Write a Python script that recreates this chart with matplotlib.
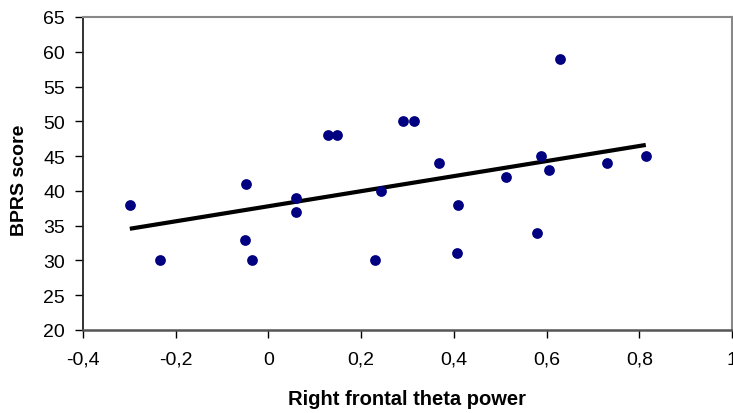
import numpy as np
import matplotlib
matplotlib.use("Agg")
import matplotlib.pyplot as plt
from matplotlib.ticker import FuncFormatter

# data
theta_power = [-0.299, -0.234, -0.048, -0.051, -0.035, 0.059, 0.059, 0.128, 0.147,
               0.230, 0.243, 0.290, 0.315, 0.369, 0.408, 0.406, 0.512, 0.580,
               0.587, 0.605, 0.629, 0.731, 0.814]
bprs_score = [38, 30, 41, 33, 30, 39, 37, 48, 48, 30, 40, 50, 50, 44, 38, 31,
              42, 34, 45, 43, 59, 44, 45]
x_ticks = [-0.4, -0.2, 0, 0.2, 0.4, 0.6, 0.8, 1.0]
y_ticks = [20, 25, 30, 35, 40, 45, 50, 55, 60, 65]

plt.rcParams['font.family'] = ['Liberation Sans', 'DejaVu Sans']

W, H = 733, 414
fig = plt.figure(figsize=(W / 100, H / 100), dpi=100)
ax = fig.add_axes([83 / W, 1 - 331 / H, (732 - 83) / W, (331 - 18) / H])

x = np.array(theta_power)
y = np.array(bprs_score)
ax.scatter(x, y, s=60, color='#000080', zorder=3, linewidths=0)

# linear trend line
slope, icpt = np.polyfit(x, y, 1)
xl = np.array([x.min(), x.max()])
ax.plot(xl, slope * xl + icpt, color='black', lw=3, solid_capstyle='butt', zorder=2)

ax.set_xlim(-0.4, 1.0)
ax.set_ylim(20, 65)
ax.set_xticks(x_ticks)
ax.set_yticks(y_ticks)
ax.xaxis.set_major_formatter(FuncFormatter(lambda v, p: f"{v:g}".replace('.', ',')))

ax.tick_params(axis='both', direction='out', length=6, width=1, colors='black',
               labelsize=14)
ax.tick_params(axis='x', pad=9)
ax.tick_params(axis='y', pad=7)

ax.spines['left'].set_color('#222222')
ax.spines['left'].set_linewidth(1.3)
ax.spines['bottom'].set_color('#555555')
ax.spines['bottom'].set_linewidth(1.8)
ax.spines['top'].set_color('#888888')
ax.spines['top'].set_linewidth(1.5)
ax.spines['right'].set_color('#888888')
ax.spines['right'].set_linewidth(1.5)

ax.set_xlabel('Right frontal theta power', fontsize=14.5, fontweight='bold')
ax.xaxis.label.set_va('baseline')
ax.xaxis.set_label_coords(407 / W, 1 - 405 / H, transform=fig.transFigure)

ax.set_ylabel('BPRS score', fontsize=14, fontweight='bold')
ax.yaxis.set_label_coords(28 / W, 1 - 180 / H, transform=fig.transFigure)

fig.savefig('out.png', dpi=100)
